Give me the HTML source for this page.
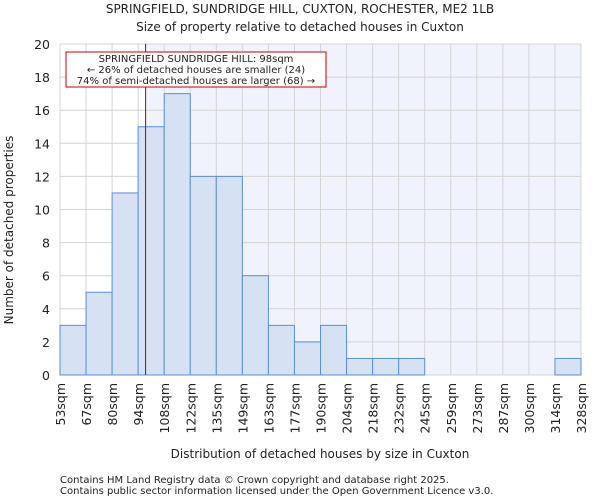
<!DOCTYPE html>
<html><head><meta charset="utf-8"><style>
body{margin:0;background:#fff;font-family:"DejaVu Sans","Liberation Sans",sans-serif;}
svg text{font-family:"DejaVu Sans","Liberation Sans",sans-serif;fill:#222;}
</style></head><body>
<svg id="chart" width="600" height="500" xmlns="http://www.w3.org/2000/svg">
<text x="300" y="13" font-size="12" text-anchor="middle">SPRINGFIELD, SUNDRIDGE HILL, CUXTON, ROCHESTER, ME2 1LB</text>
<text x="300" y="31" font-size="12" text-anchor="middle">Size of property relative to detached houses in Cuxton</text>
<g id="plot"></g>
<text x="320" y="458" font-size="12" text-anchor="middle">Distribution of detached houses by size in Cuxton</text>
<text transform="translate(13,230) rotate(-90)" font-size="12" text-anchor="middle">Number of detached properties</text>
<text x="60" y="483" font-size="10">Contains HM Land Registry data © Crown copyright and database right 2025.</text>
<text x="60" y="494" font-size="10">Contains public sector information licensed under the Open Government Licence v3.0.</text>
</svg>
<script>
const binLabels=["53sqm","67sqm","80sqm","94sqm","108sqm","122sqm","135sqm","149sqm","163sqm","177sqm","190sqm","204sqm","218sqm","232sqm","245sqm","259sqm","273sqm","287sqm","300sqm","314sqm","328sqm"];
const binEdges=[53,67,80,94,108,122,135,149,163,177,190,204,218,232,245,259,273,287,300,314,328];
const counts=[3,5,11,15,17,12,12,6,3,2,3,1,1,1,0,0,0,0,0,1];
const yTicks=[0,2,4,6,8,10,12,14,16,18,20];
const propertySize=98;
const NS="http://www.w3.org/2000/svg";
const L=60,R=581,T=44,B=375,nb=binLabels.length-1;
const xi=i=>L+(R-L)*i/nb;
const y=v=>B-(B-T)*v/20;
function xv(v){for(let i=0;i<nb;i++){if(v<=binEdges[i+1])return xi(i)+(v-binEdges[i])/(binEdges[i+1]-binEdges[i])*(xi(i+1)-xi(i));}return R;}
const g=document.getElementById('plot');
function mk(t,a){const e=document.createElementNS(NS,t);for(const k in a)e.setAttribute(k,a[k]);g.appendChild(e);return e;}
const px=xv(propertySize);
let e=mk('rect',{x:px,y:T,width:R-px,height:B-T,fill:'#f0f3fc'});


for(let i=0;i<=nb;i++){e=mk('line',{x1:xi(i),x2:xi(i),y1:T,y2:B,stroke:'#d4d4d4','stroke-width':1});

}
yTicks.forEach(v=>{e=mk('line',{x1:L,x2:R,y1:y(v),y2:y(v),stroke:'#d4d4d4','stroke-width':1});


const t=mk('text',{x:L-10,y:y(v)+5,'font-size':12.5,'text-anchor':'end'});t.textContent=v;

});
counts.forEach((c,i)=>{if(c<=0)return;e=mk('rect',{x:xi(i),y:y(c),width:xi(i+1)-xi(i),height:B-y(c),fill:'#d6e1f3',stroke:'#5b8fd6','stroke-width':1});

});
binLabels.forEach((l,i)=>{const t=mk('text',{transform:`translate(${xi(i)+5},383) rotate(-90)`,'font-size':12.5,'text-anchor':'end'});t.textContent=l;

});
e=mk('line',{x1:px,x2:px,y1:T,y2:B,stroke:'#aa0000','stroke-width':1});


e=mk('rect',{x:66,y:52,width:260,height:35,fill:'#fff',stroke:'#cc0000','stroke-width':1});


["SPRINGFIELD SUNDRIDGE HILL: 98sqm","← 26% of detached houses are smaller (24)","74% of semi-detached houses are larger (68) →"].forEach((s,i)=>{const t=mk('text',{x:196,y:62+i*11,'font-size':10,'text-anchor':'middle'});t.textContent=s;

});
</script>
</body></html>
